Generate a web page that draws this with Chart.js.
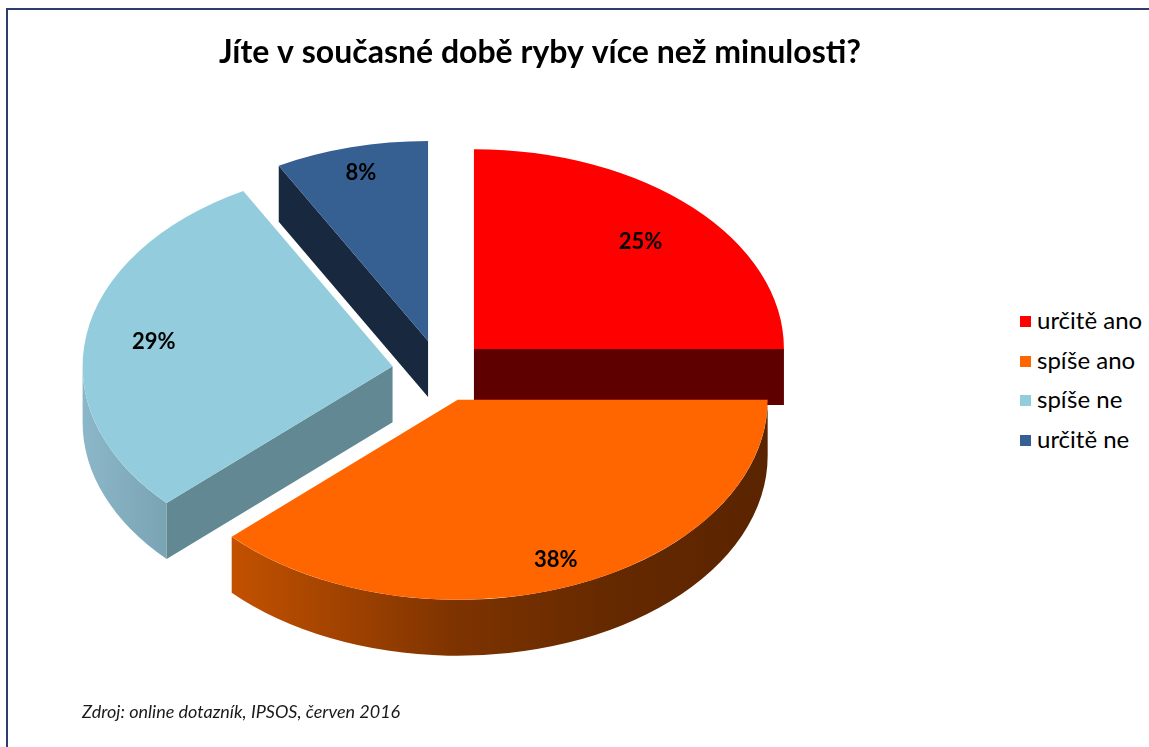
<!DOCTYPE html>
<html>
<head>
<meta charset="utf-8">
<title>Jíte v současné době ryby více než minulosti?</title>
<script src="https://cdn.jsdelivr.net/npm/chart.js@4.4.0/dist/chart.umd.min.js"></script>
<style>
    html, body { margin: 0; padding: 0; background: #fff; }
    #plocha { position: relative; width: 1149px; height: 747px; overflow: hidden; }
    #ramecek {
        position: absolute; left: 6px; top: 8px; right: 0; bottom: 0;
        border-left: 2px solid #2d3d70; border-top: 2px solid #2d3d70;
    }
    #rybyGraf { position: absolute; left: 0; top: 0; }
    #legenda {
        position: absolute; left: 1020px; top: 300px; margin: 0; padding: 0;
        list-style: none; font-family: Lato, sans-serif; font-size: 24px; color: #000;
    }
    #legenda li { height: 39.5px; line-height: 39.5px; white-space: nowrap; }
    #legenda span {
        display: inline-block; width: 11px; height: 11px; margin-right: 6px;
        vertical-align: middle; position: relative; top: -1px;
    }
</style>
</head>
<body>
<div id="plocha">
    <div id="ramecek"></div>
    <canvas id="rybyGraf" width="880" height="747"></canvas>
    <ul id="legenda"></ul>
</div>
<script>
var titulek = 'Jíte v současné době ryby více než minulosti?';
var zdroj = 'Zdroj: online dotazník, IPSOS, červen 2016';
var kategorie = ['určitě ano', 'spíše ano', 'spíše ne', 'určitě ne'];
var podily = [25, 38, 29, 8];

// top faces, and the darker walls under them
var barvy = ['#ff0000', '#ff6600', '#93cddd', '#376092'];
var steny = [
    { rez: '#5e0000', obvod: [[0, '#a00000'], [1, '#5e0000']] },
    { rez: '#6a2b00', obvod: [[0, '#d45a00'], [0.15, '#c05000'], [0.5, '#7d3300'], [0.75, '#652900'], [1, '#5a2400']] },
    { rez: '#618893', obvod: [[0, '#8cb7c8'], [0.15, '#78a2b2'], [0.5, '#628893'], [1, '#557884']] },
    { rez: '#17283f', obvod: [[0, '#2a4a70'], [1, '#17283f']] }
];
// how far out the percent labels sit, as a fraction of the radius
var popiskyR = [0.76, 0.86, 0.78, 0.87];

var tilt = 0.645;     // how much the circle is squashed
var depth = 56;       // thickness of the pie
var explode = 48;     // how far the slices are pulled apart

var pie3d = {
    id: 'pie3d',
    beforeDatasetsDraw: function (chart) {
        var ctx = chart.ctx;
        var arcs = chart.getDatasetMeta(0).data.map(function (el, i) {
            return { el: el, i: i, mid: (el.startAngle + el.endAngle) / 2 };
        });
        // back slices first
        arcs.sort(function (a, b) { return Math.sin(a.mid) - Math.sin(b.mid); });

        arcs.forEach(function (item) {
            var el = item.el, stena = steny[item.i];
            var s = el.startAngle, e = el.endAngle, r = el.outerRadius, ry = r * tilt;
            var cx = el.x + Math.cos(item.mid) * explode;
            var cy = el.y + Math.sin(item.mid) * explode * tilt;
            item.cx = cx;
            item.cy = cy;

            ctx.save();
            // outer wall, only the part facing the viewer
            var a1 = Math.max(s, 0), a2 = Math.min(e, Math.PI);
            if (a2 > a1) {
                var g = ctx.createLinearGradient(cx - r, 0, cx + r, 0);
                stena.obvod.forEach(function (st) { g.addColorStop(st[0], st[1]); });
                ctx.beginPath();
                ctx.ellipse(cx, cy, r, ry, 0, a1, a2, false);
                ctx.ellipse(cx, cy + depth, r, ry, 0, a2, a1, true);
                ctx.closePath();
                ctx.fillStyle = g;
                ctx.fill();
            }
            // cut faces along the radii
            [[s, Math.cos(s) < -1e-6], [e, Math.cos(e) > 1e-6]].forEach(function (f) {
                if (!f[1]) return;
                var px = cx + r * Math.cos(f[0]), py = cy + ry * Math.sin(f[0]);
                ctx.beginPath();
                ctx.moveTo(cx, cy);
                ctx.lineTo(px, py);
                ctx.lineTo(px, py + depth);
                ctx.lineTo(cx, cy + depth);
                ctx.closePath();
                ctx.fillStyle = stena.rez;
                ctx.fill();
            });
            ctx.restore();

            // top face is the chart's own arc, squashed to an ellipse
            ctx.save();
            ctx.translate(cx, cy);
            ctx.scale(1, tilt);
            ctx.translate(-el.x, -el.y);
            el.draw(ctx);
            ctx.restore();
        });

        ctx.save();
        ctx.font = 'bold 22px Lato';
        ctx.fillStyle = '#000';
        ctx.textAlign = 'center';
        ctx.textBaseline = 'middle';
        arcs.forEach(function (item) {
            var r = item.el.outerRadius * popiskyR[item.i];
            ctx.fillText(podily[item.i] + '%',
                item.cx + Math.cos(item.mid) * r,
                item.cy + Math.sin(item.mid) * r * tilt);
        });
        ctx.restore();
        return false;
    },
    afterDraw: function (chart) {
        var ctx = chart.ctx;
        ctx.save();
        ctx.fillStyle = '#000';
        ctx.textAlign = 'center';
        ctx.textBaseline = 'alphabetic';
        ctx.font = 'bold 32px Lato';
        ctx.fillText(titulek, 540, 63);
        ctx.textAlign = 'left';
        ctx.fillStyle = '#1a1a1a';
        ctx.font = 'italic 18px Lato';
        ctx.fillText(zdroj, 82, 718);
        ctx.restore();
    }
};

var ctx = document.getElementById('rybyGraf').getContext('2d');
var rybyChart = new Chart(ctx, {
    type: 'pie',
    data: {
        labels: kategorie,
        datasets: [{
            data: podily,
            backgroundColor: barvy,
            borderWidth: 0,
            hoverOffset: 0,
            offset: 0
        }]
    },
    options: {
        responsive: false,
        devicePixelRatio: 1,
        animation: false,
        events: [],
        radius: 310,
        layout: {
            padding: { bottom: 5 }
        },
        plugins: {
            tooltip: { enabled: false },
            legend: { display: false }
        }
    },
    plugins: [pie3d]
});

// legend next to the canvas, built from the chart's own legend items
var legenda = document.getElementById('legenda');
Chart.overrides.pie.plugins.legend.labels.generateLabels(rybyChart).forEach(function (polozka) {
    var li = document.createElement('li');
    var box = document.createElement('span');
    box.style.background = polozka.fillStyle;
    li.appendChild(box);
    li.appendChild(document.createTextNode(polozka.text));
    legenda.appendChild(li);
});
</script>
</body>
</html>
